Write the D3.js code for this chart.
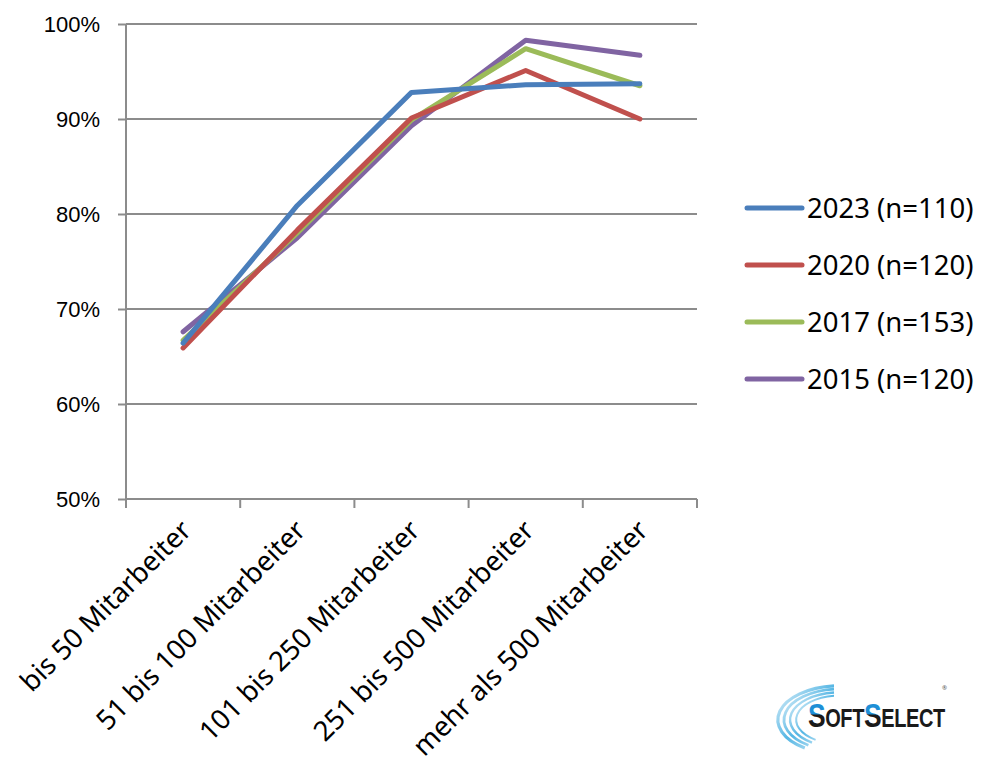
<html>
<head>
<meta charset="utf-8">
<title>Mitarbeiter chart</title>
<style>
body { margin: 0; background: #fff; }
svg { font-family: 'Noto Sans', 'Open Sans', sans-serif; }
.grid line { stroke: #8c8c8c; stroke-width: 2; }
.axis path, .axis line { stroke: #8c8c8c; stroke-width: 2; }
.axis text { fill: #000; }
</style>
</head>
<body>
<div id="chart"></div>
<script src="https://d3js.org/d3.v7.min.js"></script>
<script>

var categories = ["bis 50 Mitarbeiter", "51 bis 100 Mitarbeiter", "101 bis 250 Mitarbeiter",
                  "251 bis 500 Mitarbeiter", "mehr als 500 Mitarbeiter"];
var seriesNames = ["2023 (n=110)", "2020 (n=120)", "2017 (n=153)", "2015 (n=120)"];
var seriesColors = ["#4a7ebb", "#c0504d", "#9bbb59", "#8064a2"];

var values2023 = [0.664, 0.809, 0.928, 0.936, 0.937];
var values2020 = [0.659, 0.783, 0.901, 0.951, 0.900];
var values2017 = [0.667, 0.780, 0.899, 0.974, 0.935];
var values2015 = [0.676, 0.775, 0.893, 0.983, 0.967];

var yTicks = [0.5, 0.6, 0.7, 0.8, 0.9, 1.0];

var allValues = [values2023, values2020, values2017, values2015];

var svg = d3.select("#chart").append("svg")
  .attr("width", 981)
  .attr("height", 769);

var x = d3.scaleBand()
  .domain(categories)
  .range([126, 697])
  .padding(0);

var y = d3.scaleLinear()
  .domain([0.5, 1])
  .range([499, 24]);

// horizontal gridlines
svg.append("g")
  .attr("class", "grid")
  .selectAll("line")
  .data(yTicks)
  .enter().append("line")
  .attr("x1", x.range()[0])
  .attr("x2", x.range()[1])
  .attr("y1", function(d) { return y(d); })
  .attr("y2", function(d) { return y(d); });

// y axis
var yAxis = svg.append("g")
  .attr("class", "axis")
  .attr("transform", "translate(126,0)")
  .call(d3.axisLeft(y).tickValues(yTicks).tickFormat(d3.format(".0%")).tickSize(8).tickPadding(18).tickSizeOuter(0));
yAxis.select(".domain").attr("d", "M0," + y(1) + "V" + (y(0.5) + 9));
yAxis.selectAll("text").style("font-size", "22px").attr("dy", "0.36em");

// x axis ticks at band edges
var edges = categories.map(function(c) { return x(c); }).concat([x.range()[1]]);
var xAxis = svg.append("g").attr("class", "axis");
xAxis.selectAll("line")
  .data(edges)
  .enter().append("line")
  .attr("x1", function(d) { return d; })
  .attr("x2", function(d) { return d; })
  .attr("y1", y(0.5))
  .attr("y2", y(0.5) + 9);

xAxis.selectAll("text")
  .data(categories)
  .enter().append("text")
  .attr("transform", function(d) {
    return "translate(" + (x(d) + x.bandwidth() / 2 + 10) + "," + 532 + ") rotate(-45)";
  })
  .attr("text-anchor", "end")
  .style("font-size", "27.5px")
  .text(function(d) { return d; });

// lines
var line = d3.line()
  .x(function(d, i) { return x(categories[i]) + x.bandwidth() / 2; })
  .y(function(d) { return y(d); });

svg.append("g")
  .selectAll("path")
  .data(allValues.slice().reverse())
  .enter().append("path")
  .attr("d", line)
  .attr("fill", "none")
  .attr("stroke", function(d, i) { return seriesColors[allValues.length - 1 - i]; })
  .attr("stroke-width", 5)
  .attr("stroke-linejoin", "round")
  .attr("stroke-linecap", "round");

// legend
var legend = svg.append("g")
  .selectAll("g")
  .data(seriesNames)
  .enter().append("g")
  .attr("transform", function(d, i) { return "translate(747," + (208 + i * 57) + ")"; });

legend.append("line")
  .attr("x1", 0)
  .attr("x2", 55)
  .attr("stroke", function(d, i) { return seriesColors[i]; })
  .attr("stroke-width", 5)
  .attr("stroke-linecap", "round");

legend.append("text")
  .attr("x", 60)
  .attr("dy", "0.36em")
  .style("font-size", "27.5px")
  .text(function(d) { return d; });

// logo
var defs = svg.append("defs");
var sg = defs.append("linearGradient").attr("id", "sgrad")
  .attr("x1", 0).attr("y1", 0).attr("x2", 0).attr("y2", 1);
sg.append("stop").attr("offset", "0%").attr("stop-color", "#1e8fd6");
sg.append("stop").attr("offset", "45%").attr("stop-color", "#1e8fd6");
sg.append("stop").attr("offset", "50%").attr("stop-color", "#1a1a1a");
sg.append("stop").attr("offset", "100%").attr("stop-color", "#1a1a1a");

var ag = defs.append("linearGradient").attr("id", "agrad")
  .attr("x1", 0).attr("y1", 0).attr("x2", 1).attr("y2", 1);
ag.append("stop").attr("offset", "0%").attr("stop-color", "#e6f4fb");
ag.append("stop").attr("offset", "50%").attr("stop-color", "#55b6e4");
ag.append("stop").attr("offset", "100%").attr("stop-color", "#dcf0fa");

var logo = svg.append("g");
var arcR = [62, 56, 50, 44];
logo.selectAll("path")
  .data(arcR)
  .enter().append("path")
  .attr("d", function(r) {
    var cx = 842, cy = 720, ry = r * 0.55;
    return "M" + (cx - 8) + "," + (cy - ry) + " A" + r + "," + ry + " 0 0,0 " + (cx - r * 0.6) + "," + (cy + ry * 0.82);
  })
  .attr("fill", "none")
  .attr("stroke", "url(#agrad)")
  .attr("stroke-width", function(r, i) { return 3.2 - i * 0.4; });

var logoText = logo.append("text")
  .attr("transform", "translate(808,727) scale(0.8,1)")
  .style("font-family", "'Liberation Sans', sans-serif")
  .style("font-weight", "bold")
  .style("letter-spacing", "-0.5px")
  .style("fill", "#1a1a1a");
logoText.append("tspan").style("font-size", "33px").style("fill", "url(#sgrad)").text("S");
logoText.append("tspan").style("font-size", "25px").text("OFT");
logoText.append("tspan").style("font-size", "33px").style("fill", "url(#sgrad)").text("S");
logoText.append("tspan").style("font-size", "25px").text("ELECT");
logo.append("text")
  .attr("x", 942).attr("y", 690)
  .style("font-size", "6px")
  .style("fill", "#555")
  .text("®");

</script>
</body>
</html>
